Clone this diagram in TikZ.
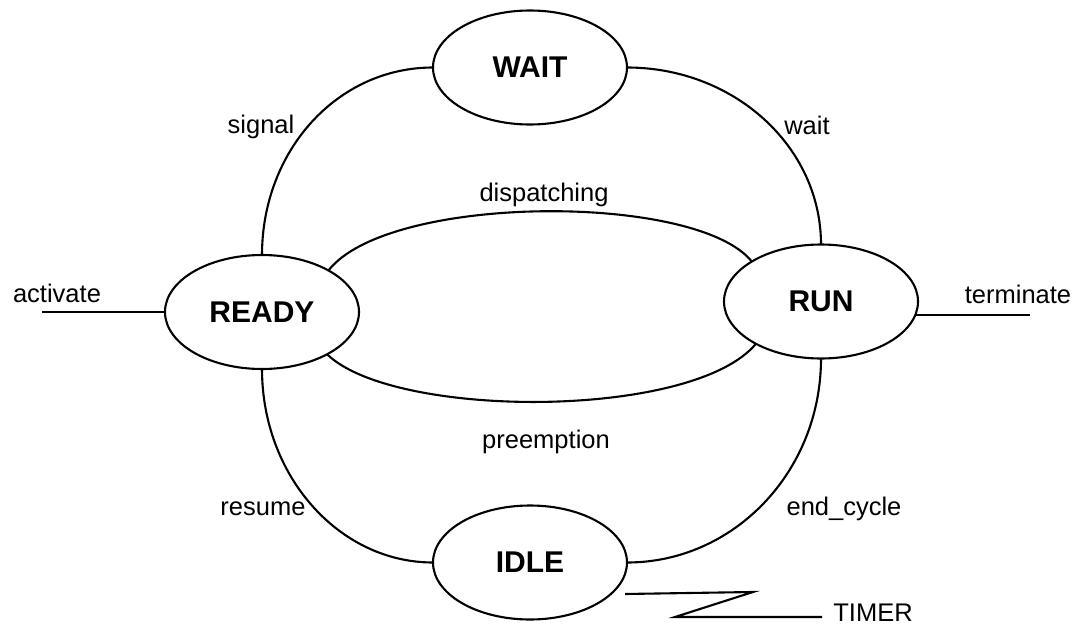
\documentclass[tikz,border=0pt]{standalone}
\usepackage{fontspec}
\setmainfont{Liberation Sans}
\usetikzlibrary{shapes.geometric}
\begin{document}
\begin{tikzpicture}[x=1pt, y=-1pt, line width=2.1pt,
  state/.style={ellipse, draw, minimum width=194pt, minimum height=114pt,
                inner sep=0pt, outer sep=0pt,
                font=\fontsize{30}{36}\selectfont\bfseries},
  lbl/.style={font=\fontsize{25.5}{30}\selectfont, inner sep=0pt, anchor=base}]
\useasboundingbox (0,0) rectangle (1076,626);

% states
\node[state] (wait)  at (530,67.5)  {WAIT};
\node[state] (ready) at (262,312)   {READY};
\node[state] (run)   at (821,301.5) {RUN};
\node[state] (idle)  at (530,562.5) {IDLE};

% free ends of the outer transitions
\coordinate (act)  at (42,312);
\coordinate (term) at (1030,0);
\coordinate (t1) at (625,594);
\coordinate (t2) at (753,592);
\coordinate (t3) at (675,617);
\coordinate (t4) at (822,617);

% outer ring
\draw (ready.north) .. controls +(0,-104) and +(-96,0) .. (wait.west);
\draw (wait.east)   .. controls +(107,0) and +(0,-98)  .. (run.north);
\draw (ready.south) .. controls +(0,107) and +(-94,0)  .. (idle.west);
\draw (run.south)   .. controls +(0,113) and +(107,0)  .. (idle.east);

% inner loop between READY and RUN
\draw (ready.32)  .. controls +(60,-77) and +(-55,-69) .. (run.150);
\draw (ready.-33) .. controls +(67,65)  and +(-63,76)  .. (run.213);

% activation, termination and timer
\draw (act) -- (ready.west);
\draw (run.-8) -- (run.-8 -| term);
\draw (t1) -- (t2) -- (t3) -- (t4);

% transition labels
\node[lbl] (l-signal)    at (261,133)  {signal};
\node[lbl] (l-wait)      at (807,134)  {wait};
\node[lbl] (l-dispatch)  at (544,201)  {dispatching};
\node[lbl] (l-activate)  at (57,302)   {activate};
\node[lbl] (l-terminate) at (1018,303) {terminate};
\node[lbl] (l-preempt)   at (546,448)  {preemption};
\node[lbl] (l-resume)    at (263,515)  {resume};
\node[lbl] (l-endcycle)  at (844,515)  {end\_cycle};
\node[lbl] (l-timer)     at (873,621)  {TIMER};
\end{tikzpicture}
\end{document}
